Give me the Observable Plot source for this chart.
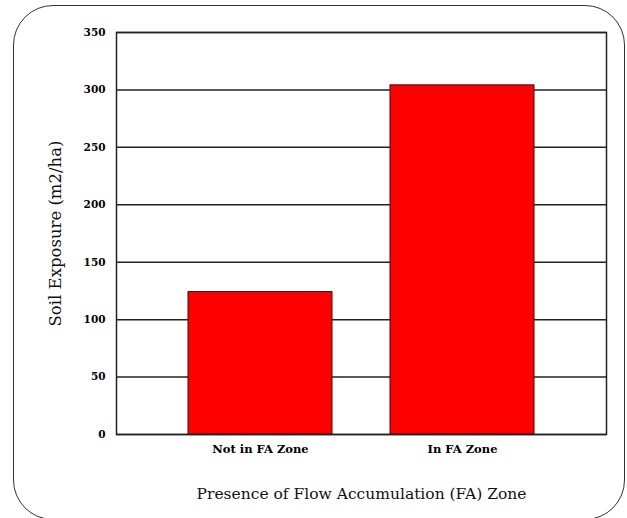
<!DOCTYPE html>
<html>
<head>
<meta charset="utf-8">
<script src="https://cdn.jsdelivr.net/npm/d3@7"></script>
<script src="https://cdn.jsdelivr.net/npm/@observablehq/plot@0.6"></script>
<style>
  html, body { margin: 0; padding: 0; background: #fff; overflow: hidden; }
  #wrap { position: relative; width: 627px; height: 518px; }
  #border { position: absolute; left: 13px; top: 5px; width: 612px; height: 515px;
            border: 1.2px solid #333; border-radius: 40px; box-sizing: border-box; pointer-events: none; }
  #chart { position: absolute; left: 0; top: 0; }
</style>
</head>
<body>
<div id="wrap"><div id="border"></div><div id="chart"></div></div>
<script>
const categories = ["Not in FA Zone", "In FA Zone"];
const values = [124, 304];
const yTicks = [0, 50, 100, 150, 200, 250, 300, 350];
const xTitle = "Presence of Flow Accumulation (FA) Zone";
const yTitle = "Soil Exposure (m2/ha)";

const data = categories.map((c, i) => ({category: c, value: values[i]}));
const serif = "'DejaVu Serif', 'Liberation Serif', serif";

const chart = Plot.plot({
  width: 627,
  height: 518,
  marginLeft: 116,
  marginRight: 21,
  marginTop: 32,
  marginBottom: 84,
  style: {background: "transparent", fontFamily: serif},
  x: {domain: categories, range: [130, 592], padding: 0.287},
  y: {domain: [0, 350]},
  marks: [
    Plot.ruleY(yTicks, {stroke: "#222", strokeWidth: 1.5}),
    Plot.barY(data, {x: "category", y: "value", fill: "#ff0000", stroke: "#3a1010", strokeWidth: 1}),
    Plot.frame({stroke: "#222", strokeWidth: 1.5}),
    Plot.axisY(yTicks, {tickSize: 0, tickPadding: 11, fontSize: 10.5, fontWeight: "bold",
      label: yTitle, labelAnchor: "center", labelArrow: "none", labelOffset: 67}),
    Plot.axisX({tickSize: 0, tickPadding: 10, fontSize: 11.5, fontWeight: "bold",
      label: xTitle, labelAnchor: "center", labelArrow: "none", labelOffset: 64})
  ]
});
document.getElementById("chart").appendChild(chart);
d3.select(chart).selectAll("text").attr("font-family", serif);
d3.select(chart).selectAll("g[aria-label='y-axis label'] text")
  .attr("font-size", 16.5).attr("font-weight", "normal").attr("fill", "#111");
d3.select(chart).selectAll("g[aria-label='x-axis label'] text")
  .attr("font-size", 15.5).attr("font-weight", "normal").attr("fill", "#111");
</script>
</body>
</html>
